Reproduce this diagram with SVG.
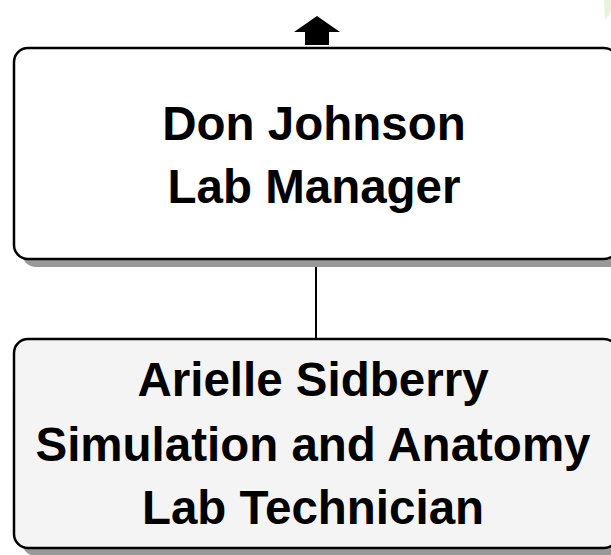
<svg xmlns="http://www.w3.org/2000/svg" width="611" height="555" viewBox="0 0 611 555">
<style>
.shadow{fill:#999999;stroke:none}
.box{stroke:#000;stroke-width:2.5}
.t{font-family:"Liberation Sans",Arial,sans-serif;font-weight:bold;font-size:47.5px;fill:#000;text-anchor:middle}
.conn{stroke:#000;stroke-width:2;fill:none}
</style>
<rect width="611" height="555" fill="#ffffff"/>
<polygon points="604,0 611,0 611,12 605,20" fill="#e8f3dc"/>
<g id="connectors">
<line class="conn" x1="316" y1="259" x2="316" y2="339"/>
<polygon id="up-arrow" points="317,16 340,32 329,32 329,45 305,45 305,32 294,32" fill="#000"/>
</g>
<g id="node-don-johnson">
<rect class="shadow" x="22" y="56" width="604" height="211" rx="14"/>
<rect class="box" x="14" y="48" width="604" height="211" rx="14" fill="#ffffff"/>
<text class="t" x="314" y="140">Don Johnson</text>
<text class="t" x="314" y="203">Lab Manager</text>
</g>
<g id="node-arielle-sidberry">
<rect class="shadow" x="22" y="347" width="604" height="209" rx="14"/>
<rect class="box" x="14" y="339" width="604" height="209" rx="14" fill="#f4f4f4"/>
<text class="t" x="313" y="396">Arielle Sidberry</text>
<text class="t" x="313" y="461">Simulation and Anatomy</text>
<text class="t" x="313" y="524">Lab Technician</text>
</g>
</svg>
